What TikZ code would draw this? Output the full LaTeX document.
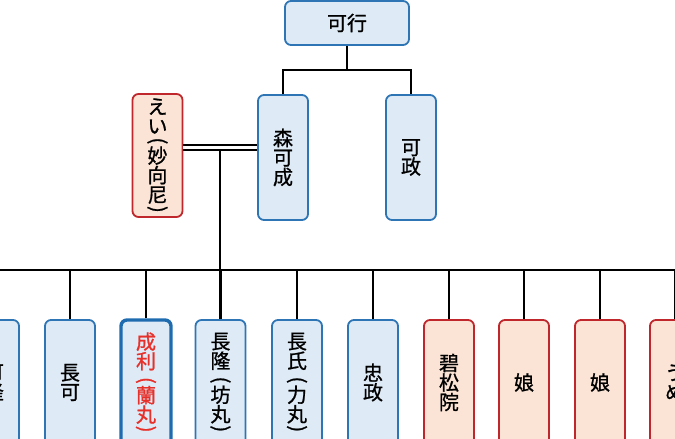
\documentclass[tikz,border=0pt]{standalone}
\usepackage{fontspec}
\setmainfont{Noto Sans CJK JP}
\newfontfamily\jp{Noto Sans CJK JP}[FakeBold=1.0]
\usetikzlibrary{calc}
\definecolor{mborder}{HTML}{2E75B6}
\definecolor{mfill}{HTML}{DEEBF7}
\definecolor{fborder}{HTML}{C0272D}
\definecolor{ffill}{HTML}{FBE4D6}
\definecolor{hborder}{HTML}{1F6BB0}
\definecolor{htext}{HTML}{E8302A}
\newcommand{\vparen}[1]{\rotatebox{-90}{#1}}
% vertical parentheses with the space before and after them
\newcommand{\lpar}[2]{\\[#1]\vparen{(}\\[#2]}
\newcommand{\rpar}[1]{\\[#1]\vparen{)}}
\newcommand{\lp}{\lpar{-11.2pt}{6.2pt}}
\newcommand{\rp}{\rpar{-15.9pt}}
\newcommand{\jpfont}{\jp\fontsize{20}{19.5}\selectfont\lineskiplimit=-100pt\relax}
\begin{document}
\begin{tikzpicture}[x=1pt,y=1pt,
  person/.style={rounded corners=6pt, minimum width=50pt, minimum height=125pt,
    line width=1.8pt, inner sep=0pt, align=center, font={\jpfont}},
  male/.style={person, draw=mborder, fill=mfill},
  female/.style={person, draw=fborder, fill=ffill},
  heir/.style={person, draw=hborder, fill=mfill, line width=3.4pt, text=htext},
  conn/.style={line width=2.2pt, black}]
\useasboundingbox (0,0) rectangle (675,439);
\clip (0,0) rectangle (675,439);
% parents generation
\node[male, minimum width=124pt, minimum height=44pt] (kayuki) at (347,416) {可行};
\node[male] (yoshinari) at (283,281.5) {森\\可\\成};
\node[male] (yoshimasa) at (411,281.5) {可\\政};
\node[female, minimum height=123pt] (ei) at (157.5,283.5) {え\\い\lpar{-15.5pt}{6.2pt}妙\\向\\尼\rpar{-15.7pt}};
% children
\node[male] (c1) at (-6,56.5) {可\\隆};
\node[male] (c2) at (70,56.5) {長\\可};
\node[heir] (c3) at (146,56.5) {成\\利\lp 蘭\\丸\rp};
\node[male] (c4) at (220.5,56.5) {長\\隆\lp 坊\\丸\rp};
\node[male] (c5) at (297,56.5) {長\\氏\lp 力\\丸\rp};
\node[male] (c6) at (373,56.5) {忠\\政};
\node[female] (c7) at (449,56.5) {碧\\松\\院};
\node[female] (c8) at (524,56.5) {娘};
\node[female] (c9) at (600,56.5) {娘};
\node[female] (c10) at (675,56.5) {う\\め};
% connectors
\coordinate (top) at (347,369);
\coordinate (bar) at (0,169);
\draw[conn] (kayuki.south) -- (top);
\draw[conn] (yoshinari.north) |- (top) -| (yoshimasa.north);
\draw[conn, line width=2pt, double, double distance=3pt] ([yshift=10pt]ei.east |- yoshinari.center) -- ([yshift=10pt]yoshinari.west);
\coordinate (m) at ($([yshift=7.5pt]ei.east |- yoshinari.center)!0.5!([yshift=7.5pt]yoshinari.west)$);
\draw[conn] (m) -- (m |- bar);
\draw[conn] (c1.north |- bar) -- (c10.north |- bar);
\foreach \c in {c1,c2,c3,c4,c5,c6,c7,c8,c9,c10} \draw[conn] (\c.north) -- (\c.north |- bar);
\end{tikzpicture}
\end{document}
